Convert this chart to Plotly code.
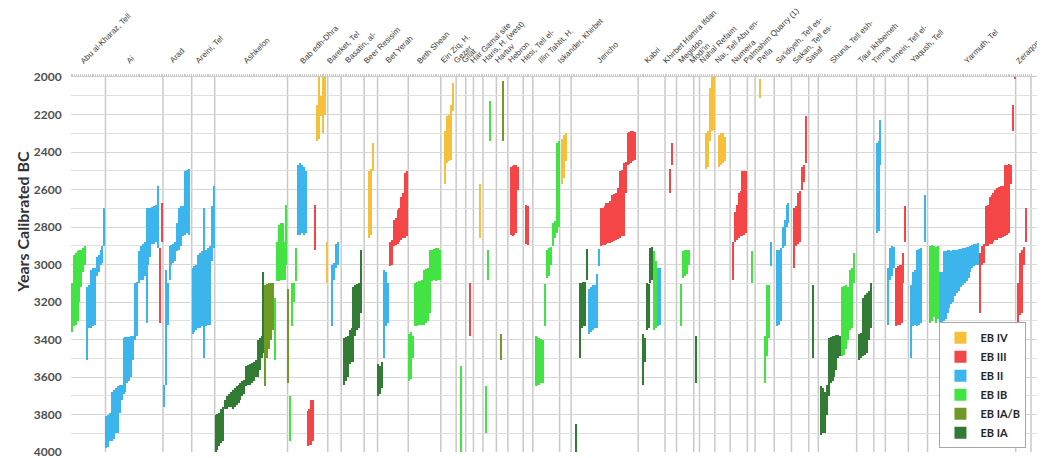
import plotly.graph_objects as go

# ---------------- data ----------------
site_names = ["Abu al-Kharaz, Tell", "Ai", "Arad", "Areini, Tel", "Ashkelon", "Bab edh-Dhra",
              "Bareket, Tel", "Basatin, al-", "Beer Resisim", "Bet Yerah", "Beth Shean",
              "Ein Ziq, H.", "Gezer", "Gilat", "Har Gamal site", "Haris, H. (west)", "Hartuv",
              "Hebron", "Hesi, Tell el-", "Illin Tahtit, H.", "Iskander, Khirbet", "Jericho",
              "Kabri", "Khirbet Hamra Ifdan", "Megiddo", "Modi'in", "Nahal Refaim",
              "Nai, Tell Abu en-", "Numeira", "Palmahim Quarry (1)", "Pella",
              "Sa'idiyeh, Tell es-", "Sakan, Tell es-", "Sasaf", "Shuna, Tell esh-",
              "Taur Ikhbeineh", "Timna", "Umeiri, Tell el-", "Yaqush, Tell", "Yarmuth, Tel",
              "Zeraqon, H."]

# each entry: (period, younger bound BC, older bound BC); None = date outside the plotted range
abu_al_kharaz = [("IB", 3100, 3360), ("IB", 2950, 3330), ("IB", 2940, 3320), ("IB", 2930, 3300),
                 ("IB", 2925, 3200), ("IB", 2920, 3120), ("IB", 2910, 3040), ("IB", 2900, 3000),
                 ("II", 3120, 3510), ("II", 3110, 3340), ("II", 3030, 3340), ("II", 3020, 3330),
                 ("II", 3020, 3320), ("II", 2960, 3060), ("II", 2950, 3040), ("II", 2920, 3000),
                 ("II", 2900, 2990), ("II", 2700, 2900)]
ai = [("II", 3810, 3980), ("II", 3800, 3975), ("II", 3790, 3940), ("II", 3680, 3940), ("II", 3670, 3930),
      ("II", 3660, 3900), ("II", 3650, 3900), ("II", 3640, 3790), ("II", 3640, 3720), ("II", 3390, 3690),
      ("II", 3385, 3680), ("II", 3385, 3630), ("II", 3385, 3620), ("II", 3380, 3600), ("II", 3380, 3510),
      ("II", 3100, 3400), ("II", 3095, 3380), ("II", 2930, 3100), ("II", 2900, 3080), ("II", 2890, 3080),
      ("II", 2880, 3060), ("II", 2700, 3310), ("II", 2700, 3000), ("II", 2700, 2960), ("II", 2695, 2890),
      ("II", 2690, 2890), ("II", 2680, 2880), ("II", 2580, 2910), ("III", 2910, 3310), ("III", 2670, 2880)]
arad = [("II", 3640, 3760), ("II", 3030, 3640), ("II", 3100, 3320), ("II", 2900, 3080), ("II", 2895, 3000),
        ("II", 2890, 2990), ("II", 2880, 2980), ("II", 2780, 2930), ("II", 2700, 2920), ("II", 2690, 2900),
        ("II", 2690, 2850), ("II", 2500, 2840), ("II", 2495, 2830), ("II", 2490, 2840), None]
areini = [("II", 3020, 3370), ("II", 3010, 3360), ("II", 3000, 3350), ("II", 2950, 3340), ("II", 2940, 3340),
          ("II", 2930, 3330), ("II", 2700, 3500), ("II", 2920, 3330), ("II", 2910, 3320), ("II", 2900, 3320),
          ("II", 2690, 2980), ("II", 2580, 2910)]
ashkelon = [("IA", 3800, 4000), ("IA", 3795, 3990), ("IA", 3790, 3970), ("IA", 3770, 3950), ("IA", 3760, 3940),
            ("IA", 3720, 3770), ("IA", 3700, 3770), ("IA", 3690, 3760), ("IA", 3680, 3760), ("IA", 3670, 3770),
            ("IA", 3660, 3760), ("IA", 3650, 3750), ("IA", 3640, 3740), ("IA", 3630, 3720), ("IA", 3620, 3700),
            ("IA", 3615, 3690), ("IA", 3540, 3650), ("IA", 3535, 3640), ("IA", 3530, 3640), ("IA", 3525, 3630),
            ("IA", 3520, 3620), ("IA", 3510, 3600), ("IA", 3400, 3600), ("IA", 3390, 3560), ("IA", 3380, 3500),
            ("IA", 3040, 3470), ("IAB", 3110, 3650), ("IAB", 3105, 3500), ("IAB", 3100, 3450),
            ("IAB", 3100, 3400), ("IAB", 3100, 3350), ("IB", 3180, 3510), ("IB", 2880, 3090),
            ("IB", 2790, 3090), ("IB", 2780, 3085), ("IB", 2780, 3080), ("IB", 2880, 3080), ("IB", 2680, 3000)]
bab_edh_dhra = [("IAB", 3130, 3630), ("IB", 3700, 3940), ("IB", 3100, 3330), ("IB", 3100, 3200),
                ("IB", 2910, 3090), ("II", 2470, 2840), ("II", 2460, 2840), ("II", 2470, 2830),
                ("II", 2480, 2840), ("II", 2500, 2830), ("III", 3780, 3970), ("III", 3770, 3960),
                ("III", 3720, 3960), ("III", 3720, 3940), ("III", 2680, 2920), ("IV", 2150, 2340),
                ("IV", 2000, 2330), ("IV", 2100, 2210), ("IV", 2000, 2300), ("IV", 2000, 2200),
                ("IV", 2880, 3100)]
bareket = [None, None, ("II", 3000, 3330), ("II", 2990, 3080), ("II", 2890, 3020), ("II", 2880, 3000), None]
basatin = [None, ("IA", 3390, 3640), ("IA", 3385, 3620), ("IA", 3380, 3600), ("IA", 3350, 3530),
           ("IA", 3340, 3520), ("IA", 3120, 3520), ("IA", 3110, 3380), ("IA", 3105, 3350),
           ("IA", 3100, 3340), ("IA", 2920, 3260), None]
beer_resisim = [None, None, ("IV", 2500, 2860), ("IV", 2490, 2840), ("IV", 2350, 2500), None, None]
bet_yerah = [("IA", 3530, 3700), ("IA", 3540, 3690), ("IA", 3520, 3660), ("II", 3030, 3500),
             ("II", 3040, 3330), ("II", 3100, 3310), ("III", 2880, 3010), ("III", 2870, 3000),
             ("III", 2760, 2900), ("III", 2750, 2895), ("III", 2710, 2890), ("III", 2700, 2880),
             ("III", 2640, 2870), ("III", 2620, 2860), ("III", 2510, 2860), ("III", 2500, 2850)]
beth_shean = [("IB", 3370, 3620), ("IB", 3360, 3610), ("IB", 3380, 3500), ("IB", 3100, 3330),
              ("IB", 3095, 3330), ("IB", 3090, 3325), ("IB", 3090, 3320), ("IB", 3080, 3320),
              ("IB", 3030, 3320), ("IB", 3025, 3310), ("IB", 3020, 3300), ("IB", 2920, 3260),
              ("IB", 2920, 3090), ("IB", 2915, 3080), ("IB", 2910, 3090), ("IB", 2910, 3080),
              ("IB", 2920, 3080)]
ein_ziq = [None, None, ("IV", 2290, 2570), ("IV", 2210, 2460), ("IV", 2200, 2450), ("IV", 2150, 2440),
           ("IV", 2030, 2180), None]
gezer = [None, None, ("IB", 3540, 4000), None, None]
gilat = [None, None, ("III", 3100, 3380), None]
har_gamal = [None, None, None, ("IV", 2570, 2860), None]
haris = [None, ("IB", 3650, 3900), ("IB", 2920, 3080), ("IB", 2130, 2340), None, None, None]
hartuv = [None, None, ("IAB", 3370, 3510), ("IAB", 2020, 2340), None, None]
hebron = [None, ("III", 2480, 2840), ("III", 2475, 2850), ("III", 2470, 2845), ("III", 2470, 2830),
          ("III", 2480, 2600), None, None]
hesi = [None, ("III", 2680, 2890), ("III", 2690, 2895), None, None]
illin_tahtit = [None, ("IB", 3380, 3650), ("IB", 3385, 3640), ("IB", 3390, 3640), ("IB", 3395, 3630),
                ("IB", 3400, 3630), ("IB", 3105, 3330), ("IB", 2920, 3070), ("IB", 2910, 3060),
                ("IB", 2905, 3000), ("IB", 2780, 2900), ("IB", 2770, 2860), ("IB", 2350, 2830),
                ("IB", 2340, 2800)]
iskander = [None, ("IV", 2330, 2570), ("IV", 2310, 2540), ("IV", 2300, 2450), None, None]
jericho = [None, None, ("IA", 3850, 4000), None, ("IA", 3100, 3500), ("IA", 3100, 3340), ("IA", 3095, 3330),
           ("IA", 3095, 3330), ("IA", 2915, 3085), ("II", 3130, 3370), ("II", 3120, 3360),
           ("II", 3110, 3350), ("II", 3110, 3340), ("II", 3050, 3340), ("II", 2915, 3010),
           ("III", 2700, 2900), ("III", 2700, 2895), ("III", 2690, 2895), ("III", 2670, 2890),
           ("III", 2670, 2885), ("III", 2660, 2885), ("III", 2630, 2880), ("III", 2625, 2875),
           ("III", 2620, 2870), ("III", 2590, 2865), ("III", 2500, 2860), ("III", 2495, 2850),
           ("III", 2460, 2850), ("III", 2455, 2620), ("III", 2300, 2470), ("III", 2295, 2465),
           ("III", 2290, 2460), ("III", 2290, 2450), ("III", 2295, 2440), None]
kabri = [None, None, ("IA", 3370, 3640), ("IA", 3390, 3520), ("IA", 3100, 3350), ("IA", 3105, 3340),
         ("IA", 2910, 3100), ("IA", 2905, 3080), ("IB", 2930, 3350), ("IB", 2980, 3340),
         ("II", 3020, 3330), ("II", 3020, 3320), None, None]
khirbet_hamra_ifdan = [None, None, ("III", 2490, 2620), ("III", 2350, 2470), None, None]
megiddo = [None, None, ("IB", 3105, 3330), ("IB", 2930, 3070), ("IB", 2920, 3060), ("IB", 2920, 3050),
           ("IB", 2925, 3000), None, None]
modiin = [None, ("IA", 3380, 3630), None]
nahal_refaim = [None, None, None, ("IV", 2300, 2490), ("IV", 2290, 2480), ("IV", 2060, 2340),
                ("IV", 2000, 2290), ("IV", 2000, 2280)]
nai = [None, None, ("IV", 2310, 2480), ("IV", 2300, 2470), ("IV", 2300, 2460), ("IV", 2320, 2450), None, None]
numeira = [None, ("III", 2880, 3080), ("III", 2720, 2880), ("III", 2680, 2870), ("III", 2620, 2860),
           ("III", 2610, 2850), ("III", 2500, 2850), ("III", 2500, 2840), ("III", 2500, 2830)]
palmahim = [None, None, ("IB", 2930, 3100), None]
pella = [None, None, ("IV", 2010, 2110), None, None, ("IB", 3380, 3630), ("IB", 3110, 3490),
         ("IB", 3110, 3390), ("II", 2880, 3010), None]
saidiyeh = [None, ("II", 2920, 3330), ("II", 2920, 3320), ("II", 2910, 3300), ("II", 2800, 2910),
            ("II", 2760, 2900), ("II", 2680, 2800), ("II", 2670, 2780), None]
sakan = [None, ("III", 2700, 3020), ("III", 2690, 2900), ("III", 2620, 2890), ("III", 2610, 2880),
         ("III", 2480, 2600), ("III", 2470, 2560), ("III", 2210, 2460), None]
sasaf = [None, None, ("IA", 3110, 3500), None, None]
shuna = [None, ("IA", 3650, 3910), ("IA", 3660, 3900), ("IA", 3680, 3900), ("IA", 3640, 3800),
         ("IA", 3390, 3700), ("IA", 3385, 3630), ("IA", 3380, 3620), ("IA", 3380, 3600),
         ("IA", 3375, 3560), ("IA", 3375, 3500), ("IA", 3380, 3490), ("IB", 3120, 3490),
         ("IB", 3115, 3480), ("IB", 3110, 3450), ("IB", 3120, 3400), ("IB", 3030, 3350),
         ("IB", 3020, 3340), ("IB", 2940, 3100), None]
taur_ikhbeineh = [None, ("IA", 3370, 3510), ("IA", 3365, 3500), ("IA", 3180, 3490), ("IA", 3160, 3480),
                  ("IA", 3150, 3470), ("IA", 3140, 3400), ("IA", 3100, 3340), None]
timna = [None, ("II", 2350, 2830), ("II", 2340, 2820), ("II", 2230, 2470), None, None]
umeiri = [None, ("II", 3020, 3320), ("II", 2910, 3080), ("II", 2900, 3060), ("II", 2905, 3020),
          ("III", 3020, 3330), ("III", 3010, 3320), ("III", 3000, 3320), ("III", 3000, 3310),
          ("III", 2940, 3100), ("III", 2690, 2880), None]
yaqush = [None, ("II", 3110, 3500), ("II", 3040, 3330), ("II", 3030, 3320), ("II", 2920, 3330),
          ("II", 2915, 3320), ("II", 2910, 3310), None, ("II", 2630, 2880), None]
yarmuth = [None, ("IB", 2900, 3310), ("IB", 2895, 3300), ("IB", 2900, 3280), ("IB", 2905, 3310),
           ("IB", 2900, 3290), ("II", 3040, 3320), ("II", 3040, 3310), ("II", 2930, 3300),
           ("II", 2930, 3290), ("II", 2925, 3260), ("II", 2925, 3230), ("II", 2930, 3210),
           ("II", 2925, 3200), ("II", 2920, 3170), ("II", 2920, 3150), ("II", 2915, 3140),
           ("II", 2915, 3120), ("II", 2910, 3110), ("II", 2910, 3100), ("II", 2905, 3090),
           ("II", 2905, 3070), ("II", 2900, 3040), ("II", 2895, 3020), ("II", 2890, 3010),
           ("II", 2890, 3000), ("II", 2885, 3000), ("III", 2940, 3260), ("III", 2900, 3000),
           ("III", 2890, 2990), ("III", 2690, 2900), ("III", 2680, 2900), ("III", 2640, 2890),
           ("III", 2630, 2890), ("III", 2620, 2880), ("III", 2600, 2870), ("III", 2590, 2870),
           ("III", 2585, 2860), ("III", 2580, 2860), ("III", 2580, 2855), ("III", 2470, 2850),
           ("III", 2470, 2840), ("III", 2465, 2830), ("III", 2470, 2570), ("III", 2150, 2290),
           ("III", 2000, 2010)]
zeraqon = [None, ("III", 3100, 3340), ("III", 2940, 3270), ("III", 2920, 3260), ("III", 2905, 3000),
           ("III", 2700, 2880), None, None]

site_bars = [abu_al_kharaz, ai, arad, areini, ashkelon, bab_edh_dhra, bareket, basatin, beer_resisim,
             bet_yerah, beth_shean, ein_ziq, gezer, gilat, har_gamal, haris, hartuv, hebron, hesi,
             illin_tahtit, iskander, jericho, kabri, khirbet_hamra_ifdan, megiddo, modiin, nahal_refaim,
             nai, numeira, palmahim, pella, saidiyeh, sakan, sasaf, shuna, taur_ikhbeineh, timna,
             umeiri, yaqush, yarmuth, zeraqon]

period_codes = ["IV", "III", "II", "IB", "IAB", "IA"]
period_names = ["EB IV", "EB III", "EB II", "EB IB", "EB IA/B", "EB IA"]
period_colors = ["#F7C03A", "#F44646", "#3BB5EC", "#42E342", "#6F9A26", "#327B35"]

# ---------------- build ----------------
xs = {c: [] for c in period_codes}
bases = {c: [] for c in period_codes}
lens = {c: [] for c in period_codes}
slot = 0
boundaries = []
centers = []
for bars in site_bars:
    start = slot
    for b in bars:
        if b is not None:
            code, young, old = b
            xs[code].append(slot)
            bases[code].append(young)
            lens[code].append(old - young)
        slot += 1
    centers.append((start + slot - 1) / 2.0)
    boundaries.append(slot - 0.5)
N = slot

fig = go.Figure()
for code, name, col in zip(period_codes, period_names, period_colors):
    fig.add_trace(go.Bar(x=xs[code], y=lens[code], base=bases[code], name=name,
                         width=0.68, marker=dict(color=col, line=dict(width=0))))

shapes = []
for bd in boundaries:
    shapes.append(dict(type="line", xref="x", yref="y", x0=bd, x1=bd, y0=2000, y1=4000,
                       line=dict(color="#c9c9c9", width=1.5), layer="below"))

annotations = []
for name, cx in zip(site_names, centers):
    annotations.append(dict(x=cx, y=1, xref="x", yref="paper", text=name, showarrow=False,
                            textangle=-45, xanchor="left", yanchor="bottom", yshift=9, xshift=-12,
                            font=dict(family="Liberation Sans", size=8, color="#3a3a3a")))

annotations.append(dict(x=-0.05, y=0.613, xref="paper", yref="paper", text="Years Calibrated BC",
                        showarrow=False, textangle=-90, xanchor="center", yanchor="middle",
                        font=dict(family="Lato", size=16, color="#333333", weight="bold")))

x_max = -0.5 + N * 970.0 / 960.0

fig.update_layout(
    width=1045, height=458,
    margin=dict(l=63, r=12, t=69, b=7),
    paper_bgcolor="white", plot_bgcolor="white",
    barmode="overlay", bargap=0,
    shapes=shapes, annotations=annotations,
    showlegend=True,
    legend=dict(x=0.985, y=0.01, xanchor="right", yanchor="bottom",
                bgcolor="white", bordercolor="#a6a6a6", borderwidth=1,
                font=dict(family="Lato", size=11, color="#262626", weight="bold"),
                itemwidth=30, traceorder="normal", tracegroupgap=0),
    xaxis=dict(range=[-0.5, x_max], side="top", showgrid=False, zeroline=False,
               showticklabels=False, showline=True, linecolor="#c9c9c9", linewidth=1,
               ticks="outside", ticklen=2, tickcolor="#c9c9c9",
               tickvals=[i - 0.5 for i in range(N + 1)], fixedrange=True),
    yaxis=dict(range=[4000, 2000], tick0=2000, dtick=200, showgrid=True, gridcolor="#d6d6d6",
               gridwidth=1, zeroline=False, showline=False, ticklabeloverflow="allow",
               ticks="outside", ticklen=6, tickcolor="rgba(255,255,255,0)",
               tickfont=dict(family="Lato", size=12, color="#505050", weight="bold"),
               minor=dict(dtick=100, tick0=2000, showgrid=True, gridcolor="#e0e0e0", gridwidth=1)),
)

fig.write_html("out.html")
